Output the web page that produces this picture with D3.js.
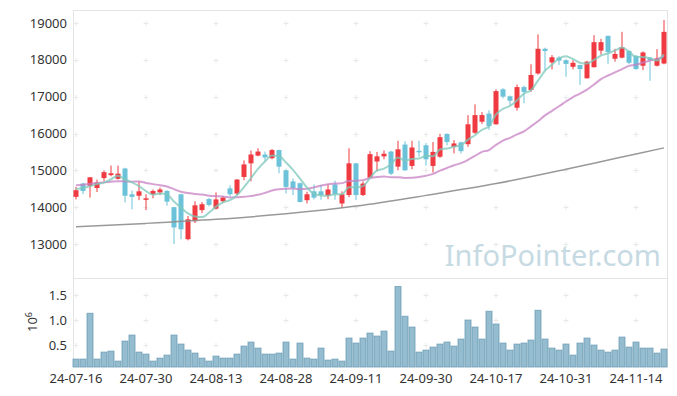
<!DOCTYPE html>
<html>
<head>
<meta charset="utf-8">
<script src="https://cdn.jsdelivr.net/npm/d3@7"></script>
<style>
  body { margin: 0; background: #fff; }
  text { font-family: "Noto Sans", sans-serif; }
</style>
</head>
<body>
<svg width="677" height="396"></svg>
<script>
// daily candles, 24-07-16 .. 24-11-20
const dates = [
  "24-07-16","24-07-17","24-07-18","24-07-19","24-07-22","24-07-23","24-07-24","24-07-25","24-07-26","24-07-29",
  "24-07-30","24-07-31","24-08-01","24-08-02","24-08-05","24-08-06","24-08-07","24-08-08","24-08-09","24-08-12",
  "24-08-13","24-08-14","24-08-16","24-08-19","24-08-20","24-08-21","24-08-22","24-08-23","24-08-26","24-08-27",
  "24-08-28","24-08-29","24-08-30","24-09-02","24-09-03","24-09-04","24-09-05","24-09-06","24-09-09","24-09-10",
  "24-09-11","24-09-12","24-09-13","24-09-19","24-09-20","24-09-23","24-09-24","24-09-25","24-09-26","24-09-27",
  "24-09-30","24-10-02","24-10-04","24-10-07","24-10-08","24-10-10","24-10-11","24-10-14","24-10-15","24-10-16",
  "24-10-17","24-10-18","24-10-21","24-10-22","24-10-23","24-10-24","24-10-25","24-10-28","24-10-29","24-10-30",
  "24-10-31","24-11-01","24-11-04","24-11-05","24-11-06","24-11-07","24-11-08","24-11-11","24-11-12","24-11-13",
  "24-11-14","24-11-15","24-11-18","24-11-19","24-11-20"
];
const opens = [
  14280,14640,14580,14520,14790,14870,14770,15050,14350,14310,
  14220,14350,14400,14440,14000,14350,13130,13620,13920,14220,
  13960,14160,14510,14370,14820,15190,15400,15430,15330,15550,
  15000,14700,14650,14190,14430,14430,14310,14620,14100,14330,
  15190,14330,14800,15240,15380,15510,15100,15700,15120,15530,
  15680,15120,15370,15990,15640,15760,15710,16020,16320,16540,
  16250,17200,17010,16700,17260,17180,17630,18300,17930,18060,
  17990,17810,17860,17500,17800,18250,18650,18030,18060,18240,
  18110,17840,18060,17840,17900
];
const highs = [
  14550,14660,14820,14750,15000,15130,15130,15070,14450,14700,
  14350,14480,14530,14460,14010,14360,13760,14160,14140,14250,
  14400,14300,14590,14760,15270,15540,15600,15510,15580,15560,
  15020,14780,14670,14420,14620,14610,14620,14720,14430,15600,
  15200,14700,15520,15500,15540,15530,15800,15790,15800,15800,
  15740,15770,15990,16000,15820,15780,16500,16790,16580,16630,
  17200,17230,17030,17330,17300,17880,18690,18330,18130,18100,
  18010,17990,17870,17970,18670,18570,18660,18300,18760,18260,
  18130,18230,18080,18290,19080
];
const lows = [
  14210,14350,14260,14410,14715,14840,14750,14130,13940,14190,
  13920,14240,14330,14040,13000,13130,13100,13570,13840,14020,
  13940,14120,14290,14330,14730,14700,15380,15250,15300,14920,
  14370,14330,14130,14100,14210,14200,14220,14200,13980,14270,
  14190,14300,14780,14970,15300,14870,15000,14990,15030,15370,
  15130,14940,15340,15680,15460,15460,15640,15990,16260,16100,
  16240,16950,16770,16620,16820,17130,17600,17720,17740,17860,
  17540,17740,17320,17490,17790,18140,17890,17950,18040,17880,
  17730,17720,17430,17820,17880
];
const closes = [
  14460,14440,14810,14670,14950,14920,14910,14310,14280,14430,
  14240,14440,14480,14150,13450,13400,13670,14050,14080,14060,
  14210,14260,14350,14750,15160,15430,15510,15350,15550,15100,
  14550,14520,14140,14350,14260,14330,14480,14350,14350,15190,
  14330,14640,15440,15380,15450,14910,15570,15000,15620,15500,
  15300,15500,15900,15770,15730,15520,16250,16500,16500,16200,
  17150,17000,16890,17260,17130,17590,18300,18240,18070,17980,
  17890,17920,17750,17950,18480,18480,18210,18160,18340,17920,
  17750,18200,17990,18040,18760
];
const volumes = [
  220000,220000,1135000,220000,360000,380000,180000,580000,700000,360000,
  320000,180000,240000,300000,700000,520000,400000,340000,240000,180000,
  280000,240000,240000,320000,480000,560000,440000,320000,320000,340000,
  560000,220000,540000,240000,220000,440000,200000,220000,180000,640000,
  540000,640000,740000,680000,780000,380000,1670000,1075000,860000,360000,
  400000,460000,520000,560000,480000,620000,1000000,860000,620000,1175000,
  920000,540000,400000,520000,540000,600000,1195000,620000,440000,400000,
  520000,300000,540000,640000,500000,400000,360000,400000,660000,460000,
  560000,440000,440000,340000,420000
];
// closes before the first shown day, only feed the 5/20 day averages
const prevCloses = [
  14200,14250,14300,14600,14550,14650,14400,14450,14350,15000,
  15100,15050,14850,14900,14850,14300,14550,14400,14750
];
// long average (grey line), read at a few dates
const longMaDates = ["24-07-16","24-07-30","24-08-13","24-08-28","24-09-11","24-09-30","24-10-17","24-10-31","24-11-11","24-11-20"];
const longMa = [13470,13560,13670,13820,14030,14320,14640,15030,15320,15610];

const priceTicks = [13000,14000,15000,16000,17000,18000,19000];
const volumeTicks = [500000,1000000,1500000];
const tickDates = ["24-07-16","24-07-30","24-08-13","24-08-28","24-09-11","24-09-30","24-10-17","24-10-31","24-11-14"];

const svg = d3.select("svg");
const plotLeft = 72.5, plotRight = 667.5, plotTop = 10, split = 278, plotBottom = 367;
const upColor = "#ee3a40", downColor = "#6cc3d9";

const x = d3.scaleBand().domain(dates).range([plotLeft, plotRight]);
const cx = d => x(d) + x.bandwidth() / 2;
const y = d3.scaleLinear().domain([12077, 19353]).range([split, plotTop]);
const yv = d3.scaleLinear().domain([63000, 1840000]).range([plotBottom, split]);

// panel frame
const frame = svg.append("g").attr("stroke", "#e4e4e4").attr("stroke-width", 1);
frame.append("line").attr("x1", 73.5).attr("x2", 73.5).attr("y1", plotTop).attr("y2", plotBottom);
frame.append("line").attr("x1", 667.5).attr("x2", 667.5).attr("y1", plotTop).attr("y2", plotBottom);
frame.append("line").attr("x1", 73.5).attr("x2", 667.5).attr("y1", plotTop + 0.5).attr("y2", plotTop + 0.5);
frame.append("line").attr("x1", 73.5).attr("x2", 667.5).attr("y1", split + 0.5).attr("y2", split + 0.5);

// grid crosses at tick intersections
const crosses = [];
tickDates.forEach(d => {
  priceTicks.forEach(p => crosses.push([cx(d), y(p)]));
  volumeTicks.forEach(v => crosses.push([cx(d), yv(v)]));
});
svg.append("g").selectAll("path").data(crosses).join("path")
  .attr("d", d => `M${d[0] - 2.5},${Math.round(d[1]) + 0.5}h5M${d[0]},${Math.round(d[1]) - 2}v5`)
  .attr("stroke", "#e9e9e9").attr("stroke-width", 1);

// watermark
svg.append("text").attr("x", 661).attr("y", 266).attr("text-anchor", "end")
  .attr("font-size", 29).attr("fill", "#c6dae3").text("InfoPointer.com");

// y axis labels
svg.append("g").selectAll("text").data(priceTicks).join("text")
  .attr("x", 67).attr("y", d => y(d)).attr("dy", "0.35em").attr("text-anchor", "end")
  .attr("font-size", 13).attr("fill", "#333").text(d => d);
svg.append("g").selectAll("text").data(volumeTicks).join("text")
  .attr("x", 67).attr("y", d => yv(d)).attr("dy", "0.35em").attr("text-anchor", "end")
  .attr("font-size", 13).attr("fill", "#333").text(d => d3.format(".1f")(d / 1e6));

const unit = svg.append("text").attr("transform", "translate(36.5,332) rotate(-90)")
  .attr("font-size", 13).attr("fill", "#333");
unit.append("tspan").text("10");
unit.append("tspan").attr("dy", -5).attr("font-size", 9).text("6");

// x axis labels
svg.append("g").selectAll("text").data(tickDates).join("text")
  .attr("x", d => cx(d)).attr("y", 383).attr("text-anchor", "middle")
  .attr("font-size", 13).attr("fill", "#333").text(d => d);

// volume
svg.append("g").selectAll("rect").data(dates).join("rect")
  .attr("x", d => x(d) + 0.5).attr("width", x.bandwidth() - 1)
  .attr("y", (d, i) => yv(volumes[i])).attr("height", (d, i) => plotBottom - yv(volumes[i]))
  .attr("fill", "#95bdcf").attr("stroke", "#6598b3").attr("stroke-opacity", 0.75);

// candles
const candle = svg.append("g").selectAll("g").data(dates).join("g")
  .attr("fill", (d, i) => closes[i] >= opens[i] ? upColor : downColor)
  .attr("stroke", (d, i) => closes[i] >= opens[i] ? upColor : downColor);
candle.append("line")
  .attr("x1", d => cx(d)).attr("x2", d => cx(d))
  .attr("y1", (d, i) => y(highs[i])).attr("y2", (d, i) => y(lows[i]))
  .attr("stroke-width", 1);
candle.append("rect")
  .attr("x", d => cx(d) - 2.5).attr("width", 5)
  .attr("y", (d, i) => y(Math.max(opens[i], closes[i])))
  .attr("height", (d, i) => Math.max(1.5, Math.abs(y(opens[i]) - y(closes[i]))))
  .attr("stroke", "none");

// moving averages
const allCloses = prevCloses.concat(closes);
const movingAvg = n => closes.map((c, i) => {
  const end = i + prevCloses.length + 1;
  return d3.mean(allCloses.slice(end - n, end));
});
const ma5 = movingAvg(5), ma20 = movingAvg(20);

const line = d3.line().x((d, i) => cx(dates[i])).y(d => y(d)).curve(d3.curveMonotoneX);
svg.append("path").datum(longMa)
  .attr("d", d3.line().x((d, i) => cx(longMaDates[i])).y(d => y(d)).curve(d3.curveMonotoneX))
  .attr("fill", "none").attr("stroke", "#8e8e8e").attr("stroke-width", 1.5).attr("stroke-opacity", 0.9);
svg.append("path").datum(ma20).attr("d", line)
  .attr("fill", "none").attr("stroke", "#c780c3").attr("stroke-width", 2).attr("stroke-opacity", 0.75);
svg.append("path").datum(ma5).attr("d", line)
  .attr("fill", "none").attr("stroke", "#7ec8bb").attr("stroke-width", 2).attr("stroke-opacity", 0.75);
</script>
</body>
</html>
